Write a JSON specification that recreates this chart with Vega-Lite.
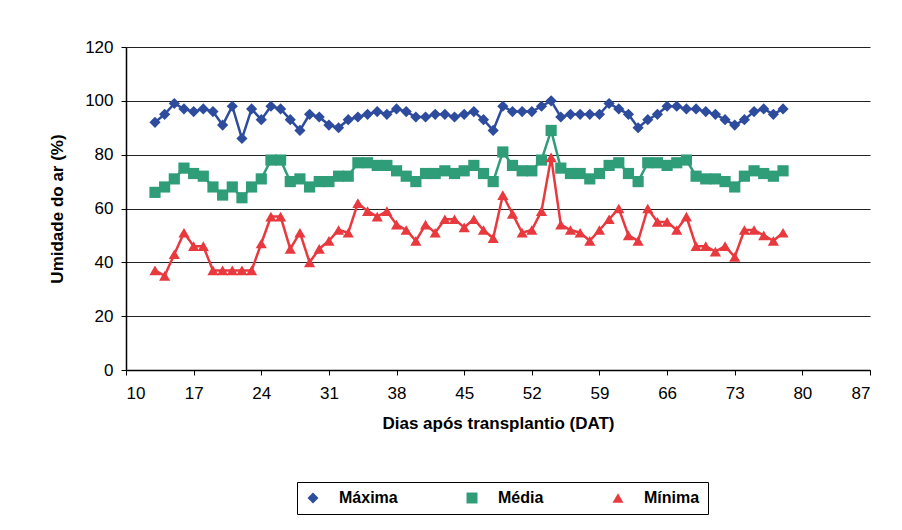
{
"$schema": "https://vega.github.io/schema/vega-lite/v6.json",
"width": 744, "height": 323,
"autosize": {"type": "none"},
"padding": {"left": 126, "top": 47, "right": 32, "bottom": 160},
"background": "white",
"config": {"view": {"stroke": null}, "font": "Liberation Sans"},
"data": {"values": [
{"dia":13,"serie":"Máxima","valor":92},{"dia":14,"serie":"Máxima","valor":95},{"dia":15,"serie":"Máxima","valor":99},{"dia":16,"serie":"Máxima","valor":97},{"dia":17,"serie":"Máxima","valor":96},{"dia":18,"serie":"Máxima","valor":97},{"dia":19,"serie":"Máxima","valor":96},{"dia":20,"serie":"Máxima","valor":91},{"dia":21,"serie":"Máxima","valor":98},{"dia":22,"serie":"Máxima","valor":86},{"dia":23,"serie":"Máxima","valor":97},{"dia":24,"serie":"Máxima","valor":93},{"dia":25,"serie":"Máxima","valor":98},{"dia":26,"serie":"Máxima","valor":97},{"dia":27,"serie":"Máxima","valor":93},{"dia":28,"serie":"Máxima","valor":89},{"dia":29,"serie":"Máxima","valor":95},{"dia":30,"serie":"Máxima","valor":94},{"dia":31,"serie":"Máxima","valor":91},{"dia":32,"serie":"Máxima","valor":90},{"dia":33,"serie":"Máxima","valor":93},{"dia":34,"serie":"Máxima","valor":94},{"dia":35,"serie":"Máxima","valor":95},{"dia":36,"serie":"Máxima","valor":96},{"dia":37,"serie":"Máxima","valor":95},{"dia":38,"serie":"Máxima","valor":97},{"dia":39,"serie":"Máxima","valor":96},{"dia":40,"serie":"Máxima","valor":94},{"dia":41,"serie":"Máxima","valor":94},{"dia":42,"serie":"Máxima","valor":95},{"dia":43,"serie":"Máxima","valor":95},{"dia":44,"serie":"Máxima","valor":94},{"dia":45,"serie":"Máxima","valor":95},{"dia":46,"serie":"Máxima","valor":96},{"dia":47,"serie":"Máxima","valor":93},{"dia":48,"serie":"Máxima","valor":89},{"dia":49,"serie":"Máxima","valor":98},{"dia":50,"serie":"Máxima","valor":96},{"dia":51,"serie":"Máxima","valor":96},{"dia":52,"serie":"Máxima","valor":96},{"dia":53,"serie":"Máxima","valor":98},{"dia":54,"serie":"Máxima","valor":100},{"dia":55,"serie":"Máxima","valor":94},{"dia":56,"serie":"Máxima","valor":95},{"dia":57,"serie":"Máxima","valor":95},{"dia":58,"serie":"Máxima","valor":95},{"dia":59,"serie":"Máxima","valor":95},{"dia":60,"serie":"Máxima","valor":99},{"dia":61,"serie":"Máxima","valor":97},{"dia":62,"serie":"Máxima","valor":95},{"dia":63,"serie":"Máxima","valor":90},{"dia":64,"serie":"Máxima","valor":93},{"dia":65,"serie":"Máxima","valor":95},{"dia":66,"serie":"Máxima","valor":98},{"dia":67,"serie":"Máxima","valor":98},{"dia":68,"serie":"Máxima","valor":97},{"dia":69,"serie":"Máxima","valor":97},{"dia":70,"serie":"Máxima","valor":96},{"dia":71,"serie":"Máxima","valor":95},{"dia":72,"serie":"Máxima","valor":93},{"dia":73,"serie":"Máxima","valor":91},{"dia":74,"serie":"Máxima","valor":93},{"dia":75,"serie":"Máxima","valor":96},{"dia":76,"serie":"Máxima","valor":97},{"dia":77,"serie":"Máxima","valor":95},{"dia":78,"serie":"Máxima","valor":97},
{"dia":13,"serie":"Média","valor":66},{"dia":14,"serie":"Média","valor":68},{"dia":15,"serie":"Média","valor":71},{"dia":16,"serie":"Média","valor":75},{"dia":17,"serie":"Média","valor":73},{"dia":18,"serie":"Média","valor":72},{"dia":19,"serie":"Média","valor":68},{"dia":20,"serie":"Média","valor":65},{"dia":21,"serie":"Média","valor":68},{"dia":22,"serie":"Média","valor":64},{"dia":23,"serie":"Média","valor":68},{"dia":24,"serie":"Média","valor":71},{"dia":25,"serie":"Média","valor":78},{"dia":26,"serie":"Média","valor":78},{"dia":27,"serie":"Média","valor":70},{"dia":28,"serie":"Média","valor":71},{"dia":29,"serie":"Média","valor":68},{"dia":30,"serie":"Média","valor":70},{"dia":31,"serie":"Média","valor":70},{"dia":32,"serie":"Média","valor":72},{"dia":33,"serie":"Média","valor":72},{"dia":34,"serie":"Média","valor":77},{"dia":35,"serie":"Média","valor":77},{"dia":36,"serie":"Média","valor":76},{"dia":37,"serie":"Média","valor":76},{"dia":38,"serie":"Média","valor":74},{"dia":39,"serie":"Média","valor":72},{"dia":40,"serie":"Média","valor":70},{"dia":41,"serie":"Média","valor":73},{"dia":42,"serie":"Média","valor":73},{"dia":43,"serie":"Média","valor":74},{"dia":44,"serie":"Média","valor":73},{"dia":45,"serie":"Média","valor":74},{"dia":46,"serie":"Média","valor":76},{"dia":47,"serie":"Média","valor":73},{"dia":48,"serie":"Média","valor":70},{"dia":49,"serie":"Média","valor":81},{"dia":50,"serie":"Média","valor":76},{"dia":51,"serie":"Média","valor":74},{"dia":52,"serie":"Média","valor":74},{"dia":53,"serie":"Média","valor":78},{"dia":54,"serie":"Média","valor":89},{"dia":55,"serie":"Média","valor":75},{"dia":56,"serie":"Média","valor":73},{"dia":57,"serie":"Média","valor":73},{"dia":58,"serie":"Média","valor":71},{"dia":59,"serie":"Média","valor":73},{"dia":60,"serie":"Média","valor":76},{"dia":61,"serie":"Média","valor":77},{"dia":62,"serie":"Média","valor":73},{"dia":63,"serie":"Média","valor":70},{"dia":64,"serie":"Média","valor":77},{"dia":65,"serie":"Média","valor":77},{"dia":66,"serie":"Média","valor":76},{"dia":67,"serie":"Média","valor":77},{"dia":68,"serie":"Média","valor":78},{"dia":69,"serie":"Média","valor":72},{"dia":70,"serie":"Média","valor":71},{"dia":71,"serie":"Média","valor":71},{"dia":72,"serie":"Média","valor":70},{"dia":73,"serie":"Média","valor":68},{"dia":74,"serie":"Média","valor":72},{"dia":75,"serie":"Média","valor":74},{"dia":76,"serie":"Média","valor":73},{"dia":77,"serie":"Média","valor":72},{"dia":78,"serie":"Média","valor":74},
{"dia":13,"serie":"Mínima","valor":37},{"dia":14,"serie":"Mínima","valor":35},{"dia":15,"serie":"Mínima","valor":43},{"dia":16,"serie":"Mínima","valor":51},{"dia":17,"serie":"Mínima","valor":46},{"dia":18,"serie":"Mínima","valor":46},{"dia":19,"serie":"Mínima","valor":37},{"dia":20,"serie":"Mínima","valor":37},{"dia":21,"serie":"Mínima","valor":37},{"dia":22,"serie":"Mínima","valor":37},{"dia":23,"serie":"Mínima","valor":37},{"dia":24,"serie":"Mínima","valor":47},{"dia":25,"serie":"Mínima","valor":57},{"dia":26,"serie":"Mínima","valor":57},{"dia":27,"serie":"Mínima","valor":45},{"dia":28,"serie":"Mínima","valor":51},{"dia":29,"serie":"Mínima","valor":40},{"dia":30,"serie":"Mínima","valor":45},{"dia":31,"serie":"Mínima","valor":48},{"dia":32,"serie":"Mínima","valor":52},{"dia":33,"serie":"Mínima","valor":51},{"dia":34,"serie":"Mínima","valor":62},{"dia":35,"serie":"Mínima","valor":59},{"dia":36,"serie":"Mínima","valor":57},{"dia":37,"serie":"Mínima","valor":59},{"dia":38,"serie":"Mínima","valor":54},{"dia":39,"serie":"Mínima","valor":52},{"dia":40,"serie":"Mínima","valor":48},{"dia":41,"serie":"Mínima","valor":54},{"dia":42,"serie":"Mínima","valor":51},{"dia":43,"serie":"Mínima","valor":56},{"dia":44,"serie":"Mínima","valor":56},{"dia":45,"serie":"Mínima","valor":53},{"dia":46,"serie":"Mínima","valor":56},{"dia":47,"serie":"Mínima","valor":52},{"dia":48,"serie":"Mínima","valor":49},{"dia":49,"serie":"Mínima","valor":65},{"dia":50,"serie":"Mínima","valor":58},{"dia":51,"serie":"Mínima","valor":51},{"dia":52,"serie":"Mínima","valor":52},{"dia":53,"serie":"Mínima","valor":59},{"dia":54,"serie":"Mínima","valor":79},{"dia":55,"serie":"Mínima","valor":54},{"dia":56,"serie":"Mínima","valor":52},{"dia":57,"serie":"Mínima","valor":51},{"dia":58,"serie":"Mínima","valor":48},{"dia":59,"serie":"Mínima","valor":52},{"dia":60,"serie":"Mínima","valor":56},{"dia":61,"serie":"Mínima","valor":60},{"dia":62,"serie":"Mínima","valor":50},{"dia":63,"serie":"Mínima","valor":48},{"dia":64,"serie":"Mínima","valor":60},{"dia":65,"serie":"Mínima","valor":55},{"dia":66,"serie":"Mínima","valor":55},{"dia":67,"serie":"Mínima","valor":52},{"dia":68,"serie":"Mínima","valor":57},{"dia":69,"serie":"Mínima","valor":46},{"dia":70,"serie":"Mínima","valor":46},{"dia":71,"serie":"Mínima","valor":44},{"dia":72,"serie":"Mínima","valor":46},{"dia":73,"serie":"Mínima","valor":42},{"dia":74,"serie":"Mínima","valor":52},{"dia":75,"serie":"Mínima","valor":52},{"dia":76,"serie":"Mínima","valor":50},{"dia":77,"serie":"Mínima","valor":48},{"dia":78,"serie":"Mínima","valor":51}
]},
"encoding": {
  "x": {"field": "dia", "type": "quantitative",
    "scale": {"domain": [10, 87], "nice": false, "zero": false},
    "axis": {"values": [10,17,24,31,38,45,52,59,66,73,80,87], "title": "Dias após transplantio (DAT)", "grid": false,
      "domainColor": "#000", "domainWidth": 1.5, "tickColor": "#000", "tickSize": 5, "labelPadding": 10,
      "labelFontSize": 17, "labelColor": "#000", "titleFontSize": 17, "titleFontWeight": "bold", "titleColor": "#000", "titlePadding": 14}},
  "y": {"field": "valor", "type": "quantitative",
    "scale": {"domain": [0, 120], "nice": false},
    "axis": {"values": [0,20,40,60,80,100,120], "title": "Umidade do ar (%)", "grid": true, "gridColor": "#222", "gridWidth": 1, "gridOpacity": 1,
      "domainColor": "#000", "domainWidth": 1.5, "tickColor": "#000", "tickSize": 5, "labelPadding": 8,
      "labelFontSize": 17, "labelColor": "#000", "titleFontSize": 17, "titleFontWeight": "bold", "titleColor": "#000", "titlePadding": 18}},
  "color": {"field": "serie", "type": "nominal",
    "scale": {"domain": ["Máxima", "Média", "Mínima"], "range": ["#2e4c9e", "#2f9d77", "#e8393f"]},
    "legend": {"orient": "none", "legendX": 171, "legendY": 435, "direction": "horizontal", "title": null,
      "strokeColor": "#000", "padding": 8, "labelFontSize": 16, "labelFontWeight": "bold", "labelColor": "#000",
      "symbolSize": 120, "symbolStrokeWidth": 0, "columnPadding": 66, "labelOffset": 18}}
},
"layer": [
  {"mark": {"type": "line", "strokeWidth": 2.5}},
  {"mark": {"type": "point", "filled": true, "size": 125, "opacity": 1},
   "encoding": {"shape": {"field": "serie", "type": "nominal",
     "scale": {"domain": ["Máxima", "Média", "Mínima"], "range": ["diamond", "square", "triangle-up"]},
     "legend": {"orient": "none", "legendX": 171, "legendY": 435, "direction": "horizontal", "title": null,
      "strokeColor": "#000", "padding": 8, "labelFontSize": 16, "labelFontWeight": "bold", "labelColor": "#000",
      "symbolSize": 120, "symbolStrokeWidth": 0, "columnPadding": 66, "labelOffset": 18}}}}
]
}
